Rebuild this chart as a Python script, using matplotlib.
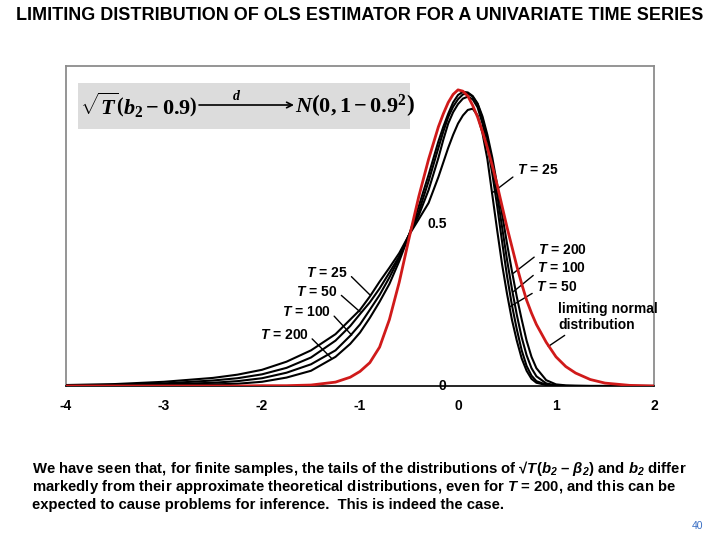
import numpy as np
import matplotlib
matplotlib.use('Agg')
import matplotlib.pyplot as plt
from matplotlib.patches import Rectangle

plt.rcParams['font.family'] = ['Liberation Sans', 'DejaVu Sans']
plt.rcParams['font.weight'] = 'bold'
plt.rcParams['mathtext.fontset'] = 'custom'
plt.rcParams['mathtext.rm'] = 'Liberation Serif:bold'
plt.rcParams['mathtext.it'] = 'Liberation Serif:italic:bold'
plt.rcParams['mathtext.bf'] = 'Liberation Serif:bold'
plt.rcParams['mathtext.sf'] = 'Liberation Sans:italic:bold'

# values (density curves)
x_vals = [-4.0, -3.5, -3.0, -2.5, -2.25, -2.0, -1.75, -1.5, -1.25, -1.1, -1.0, -0.9, -0.8,
          -0.7, -0.6, -0.5, -0.4, -0.3, -0.2, -0.15, -0.1, -0.05, 0.0, 0.05, 0.1, 0.15,
          0.2, 0.25, 0.3, 0.35, 0.4, 0.45, 0.5, 0.55, 0.6, 0.65, 0.7, 0.75, 0.8, 0.9,
          1.0, 1.1, 1.2, 1.35, 1.5, 1.75, 2.0]
limit_normal = [0, 0, 0, 0, 0, 0.001, 0.001, 0.003, 0.012, 0.027, 0.045, 0.072, 0.12,
                0.205, 0.32, 0.455, 0.585, 0.70, 0.80, 0.84, 0.875, 0.90, 0.914, 0.91, 0.895, 0.866,
                0.83, 0.785, 0.735, 0.68, 0.62, 0.555, 0.49, 0.43, 0.37, 0.315, 0.265, 0.225, 0.19, 0.135,
                0.09, 0.06, 0.04, 0.02, 0.009, 0.002, 0.0]
t25 = [0.003, 0.006, 0.013, 0.025, 0.035, 0.05, 0.075, 0.11, 0.16, 0.205, 0.235, 0.276, 0.322,
       0.365, 0.41, 0.466, 0.515, 0.565, 0.645, 0.69, 0.735, 0.775, 0.81, 0.835, 0.852, 0.856,
       0.835, 0.78, 0.70, 0.59, 0.48, 0.375, 0.285, 0.205, 0.14, 0.085, 0.047, 0.022, 0.01, 0.003,
       0.001, 0, 0, 0, 0, 0, 0]
t50 = [0.001, 0.003, 0.008, 0.017, 0.024, 0.036, 0.056, 0.088, 0.14, 0.185, 0.222, 0.258, 0.301,
       0.35, 0.40, 0.466, 0.527, 0.605, 0.704, 0.76, 0.81, 0.845, 0.87, 0.887, 0.893, 0.885,
       0.86, 0.81, 0.74, 0.655, 0.555, 0.445, 0.34, 0.25, 0.175, 0.11, 0.062, 0.032, 0.015, 0.004,
       0.001, 0, 0, 0, 0, 0, 0]
t100 = [0.0, 0.001, 0.005, 0.01, 0.015, 0.024, 0.041, 0.067, 0.11, 0.155, 0.19, 0.235, 0.281,
        0.335, 0.395, 0.466, 0.538, 0.632, 0.735, 0.785, 0.83, 0.862, 0.885, 0.90, 0.903, 0.893,
        0.87, 0.825, 0.765, 0.685, 0.59, 0.49, 0.39, 0.30, 0.22, 0.15, 0.095, 0.055, 0.03, 0.008,
        0.002, 0, 0, 0, 0, 0, 0]
t200 = [0.0, 0.001, 0.003, 0.005, 0.007, 0.013, 0.026, 0.047, 0.09, 0.13, 0.165, 0.21, 0.26,
        0.315, 0.385, 0.466, 0.555, 0.652, 0.755, 0.80, 0.84, 0.875, 0.898, 0.908, 0.906, 0.895,
        0.872, 0.832, 0.775, 0.705, 0.62, 0.53, 0.44, 0.355, 0.275, 0.205, 0.14, 0.09, 0.055, 0.018,
        0.005, 0.002, 0.001, 0, 0, 0, 0]

x_ticks = [-4, -3, -2, -1, 0, 1, 2]
x_tick_labels = ['-4', '-3', '-2', '-1', '0', '1', '2']
y_marks = [0, 0.5]
y_mark_labels = ['0', '0.5']

title = 'LIMITING DISTRIBUTION OF OLS ESTIMATOR FOR A UNIVARIATE TIME SERIES'
note_lines = [
    r'We have seen that, for finite samples, the tails of the distributions of √$\mathsf{T}$($\mathsf{b_2}$ – $\mathsf{β_2}$) and $\mathsf{b_2}$ differ',
    r'markedly from their approximate theoretical distributions, even for $\mathsf{T}$ = 200, and this can be',
    'expected to cause problems for inference.  This is indeed the case.',
]


def fxy(px, py):
  return px / 720, 1 - py / 540


fig = plt.figure(figsize=(7.2, 5.4), dpi=100)
ax = fig.add_axes([66/720, 1-386/540, 588/720, 320/540])
ax.set_xlim(-4, 2)
ax.set_ylim(0, 320/324)

for c in [t25, t50, t100, t200]:
  ax.plot(x_vals, c, color='black', lw=1.5, zorder=3)
ax.plot(x_vals, limit_normal, color='#d01a1a', lw=2.0, zorder=4)

ax.set_xticks(x_ticks, labels=x_tick_labels)
ax.set_yticks([])
ax.tick_params(axis='x', length=0, pad=9, labelsize=10)
for lbl in ax.get_xticklabels():
  lbl.set_fontweight('bold')
for s in ['left', 'top', 'right']:
  ax.spines[s].set_color('#8c8c8c')
  ax.spines[s].set_linewidth(1.3)
ax.spines['bottom'].set_color('black')
ax.spines['bottom'].set_linewidth(1.2)

ax.text(-0.209, y_marks[1], y_mark_labels[1], ha='center', va='center', fontsize=10, fontweight='bold')
ax.text(-0.163, y_marks[0], y_mark_labels[0], ha='center', va='center', fontsize=10, fontweight='bold', zorder=5)

# formula box
ax.add_patch(Rectangle((12/588, (386-129)/320), 332/588, 46/320, transform=ax.transAxes,
                       facecolor='#dcdcdc', edgecolor='none', zorder=1))
fig.text(*fxy(80, 105), r'$\sqrt{T}\left(b_2-0.9\right)$', fontsize=16, ha='left', va='center')
ax.annotate('', xy=fxy(294, 105), xytext=fxy(199, 105), xycoords='figure fraction',
            textcoords='figure fraction',
            arrowprops=dict(arrowstyle='->', lw=1.2, color='black', shrinkA=0, shrinkB=0))
fig.text(*fxy(237, 96), r'$d$', fontsize=10, ha='center', va='center')
fig.text(*fxy(295, 105), r'$N\left(0,1-0.9^2\right)$', fontsize=16, ha='left', va='center')

# curve labels
lab = dict(fontsize=10, fontweight='bold', va='center')
arr = dict(arrowstyle='-', lw=1.0, color='black', shrinkA=1, shrinkB=0)
left_labels = [('25', (-1.337, 0.349), (-0.898, 0.281)),
               ('50', (-1.439, 0.290), (-1.0, 0.229)),
               ('100', (-1.551, 0.228), (-1.085, 0.157)),
               ('200', (-1.776, 0.157), (-1.289, 0.085))]
for t, txy, pxy in left_labels:
  ax.annotate(r'$\mathsf{T}$ = ' + t, xy=pxy, xytext=txy, ha='center',
              arrowprops=dict(arr, relpos=(1, 0.5)), **lab)

right_labels = [('25', (0.811, 0.667), (0.344, 0.595)),
                ('200', (1.066, 0.420), (0.565, 0.348)),
                ('100', (1.056, 0.364), (0.565, 0.291)),
                ('50', (1.007, 0.306), (0.531, 0.245))]
for t, txy, pxy in right_labels:
  ax.annotate(r'$\mathsf{T}$ = ' + t, xy=pxy, xytext=txy, ha='center',
              arrowprops=dict(arr, relpos=(0, 0.2)), **lab)

ax.annotate('limiting normal\ndistribution', xy=(0.921, 0.122), xytext=(1.02, 0.213),
            ha='left', fontsize=10, fontweight='bold', va='center', linespacing=1.15,
            annotation_clip=False,
            arrowprops=dict(arr, relpos=(0.12, 0)))

fig.text(0.5, 1 - 16/540, title, ha='center', va='center', fontsize=13, fontweight='bold')
for i, line in enumerate(note_lines):
  fig.text(32/720, 1 - (468 + 18.5*i)/540, line, ha='left', va='center', fontsize=10.7, fontweight='bold')
fig.text(*fxy(697, 526), '40', color='#3a6fc4', fontsize=7.5, fontweight='normal', ha='center', va='center')

fig.savefig('out.png', dpi=100)
